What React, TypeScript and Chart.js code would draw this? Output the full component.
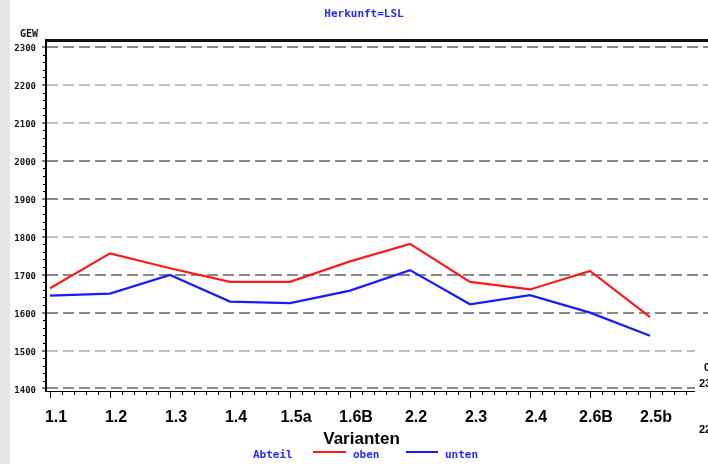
import React, { useEffect, useRef } from "react";
import { Chart, registerables } from "chart.js";

Chart.register(...registerables);

const categories = ["1.1", "1.2", "1.3", "1.4", "1.5a", "1.6B", "2.2", "2.3", "2.4", "2.6B", "2.5b"];
const oben = [1664, 1756, 1717, 1681, 1681, 1735, 1781, 1681, 1661, 1710, 1588];
const unten = [1645, 1650, 1699, 1629, 1625, 1658, 1712, 1622, 1646, 1600, 1539];
const yTicks = [1400, 1500, 1600, 1700, 1800, 1900, 2000, 2100, 2200, 2300];
const darkGrid = [1400, 1600, 1700, 1900, 2000, 2300];
const titleText = "Herkunft=LSL";
const yTitle = "GEW";
const xTitle = "Varianten";
const legendTitle = "Abteil";
const seriesNames = ["oben", "unten"];

const RED = "#ff1a1a";
const BLUE = "#1a1aff";
const TEXT_BLUE = "#2a2aff";
const MONO = "'DejaVu Sans Mono', monospace";
const SANS = "'Liberation Sans', Arial, sans-serif";

const decor = {
  id: "decor",
  beforeDraw(chart: any) {
    const ctx = chart.ctx;
    ctx.save();
    ctx.fillStyle = "#ffffff";
    ctx.fillRect(0, 0, chart.width, chart.height);
    ctx.fillStyle = "#e6e6e6";
    ctx.fillRect(0, 0, 10, chart.height);
    ctx.restore();
  },
  afterDraw(chart: any) {
    const { ctx, chartArea: ca, scales } = chart;
    const xs = scales.x;
    const ys = scales.y;
    ctx.save();
    // minor ticks
    ctx.strokeStyle = "#000";
    ctx.lineWidth = 1;
    ctx.beginPath();
    for (let k = Math.ceil(xs.min * 5); k <= Math.floor(xs.max * 5); k++) {
      if (k % 5 === 0) continue;
      const px = Math.round(xs.getPixelForValue(k / 5)) + 0.5;
      ctx.moveTo(px, ca.bottom);
      ctx.lineTo(px, ca.bottom + 4);
    }
    for (let v = Math.ceil(ys.min / 20) * 20; v <= ys.max; v += 20) {
      if (v % 100 === 0) continue;
      const py = Math.round(ys.getPixelForValue(v)) + 0.5;
      ctx.moveTo(ca.left - 3, py);
      ctx.lineTo(ca.left, py);
    }
    ctx.stroke();

    // top frame line
    ctx.fillStyle = "#111";
    ctx.fillRect(ca.left - 1, ca.top - 1, ca.right - ca.left + 1, 3);

    // right-side cut (neighbouring panel)
    ctx.fillStyle = "#ffffff";
    ctx.fillRect(695, 340, 13, 124);
    ctx.fillStyle = "#000";
    ctx.font = `bold 11px ${SANS}`;
    ctx.textAlign = "left";
    ctx.textBaseline = "middle";
    ctx.fillText("0", 704, 368);
    ctx.fillText("23", 699, 384);
    ctx.fillText("22", 699, 430);

    // title
    ctx.fillStyle = TEXT_BLUE;
    ctx.font = `bold 11px ${MONO}`;
    ctx.textAlign = "center";
    ctx.textBaseline = "middle";
    ctx.fillText(titleText, 364, 14);

    // y title
    ctx.fillStyle = "#111";
    ctx.font = `bold 10px ${MONO}`;
    ctx.textAlign = "right";
    ctx.fillText(yTitle, 38, 34.5);

    // x title
    ctx.fillStyle = "#000";
    ctx.font = `bold 17px ${SANS}`;
    ctx.textAlign = "center";
    ctx.textBaseline = "alphabetic";
    ctx.fillText(xTitle, 361.5, 444);

    // legend
    ctx.font = `bold 11px ${MONO}`;
    ctx.textAlign = "left";
    ctx.textBaseline = "middle";
    ctx.fillStyle = TEXT_BLUE;
    ctx.fillText(legendTitle, 253, 455);
    ctx.lineWidth = 2;
    ctx.strokeStyle = RED;
    ctx.beginPath();
    ctx.moveTo(313, 452);
    ctx.lineTo(346, 452);
    ctx.stroke();
    ctx.fillText(seriesNames[0], 353, 455);
    ctx.strokeStyle = BLUE;
    ctx.beginPath();
    ctx.moveTo(406, 452);
    ctx.lineTo(438, 452);
    ctx.stroke();
    ctx.fillText(seriesNames[1], 445, 455);
    ctx.restore();
  },
};

export default function App() {
  const ref = useRef<HTMLCanvasElement | null>(null);

  useEffect(() => {
    if (!ref.current) return;
    const chart = new Chart(ref.current, {
      type: "line",
      data: {
        datasets: [
          {
            label: seriesNames[0],
            data: oben.map((v, i) => ({ x: i, y: v })),
            borderColor: RED,
            borderWidth: 2.2,
            pointRadius: 0,
            tension: 0,
            fill: false,
          },
          {
            label: seriesNames[1],
            data: unten.map((v, i) => ({ x: i, y: v })),
            borderColor: BLUE,
            borderWidth: 2.2,
            pointRadius: 0,
            tension: 0,
            fill: false,
          },
        ],
      },
      options: {
        animation: false,
        responsive: false,
        maintainAspectRatio: false,
        layout: { padding: { top: 40, left: 0, right: 0, bottom: 0 } },
        plugins: {
          legend: { display: false },
          title: { display: false },
          tooltip: { enabled: false },
        },
        scales: {
          x: {
            type: "linear",
            position: "bottom",
            min: -4 / 60,
            max: 658 / 60,
            afterFit: (s: any) => {
              s.height = 73;
            },
            afterBuildTicks: (s: any) => {
              s.ticks = categories.map((_, i) => ({ value: i }));
            },
            grid: {
              drawOnChartArea: false,
              drawTicks: true,
              tickLength: 7,
              tickColor: "#000",
              tickWidth: 1,
            },
            border: { display: true, color: "#000", width: 1 },
            ticks: {
              callback: (v: any) => categories[v as number],
              font: { family: SANS, size: 16, weight: "bold" },
              color: "#000",
              padding: 10,
              labelOffset: 6,
              maxRotation: 0,
              autoSkip: false,
            },
          },
          y: {
            type: "linear",
            min: 1393.4,
            max: 2318.4,
            afterFit: (s: any) => {
              s.width = 46;
            },
            afterBuildTicks: (s: any) => {
              s.ticks = yTicks.map((v) => ({ value: v }));
            },
            grid: {
              color: (c: any) => (darkGrid.includes(c.tick?.value) ? "#8a8a8a" : "#bdbdbd"),
              lineWidth: 2,
              drawTicks: true,
              tickLength: 4,
              tickColor: "#000",
              tickWidth: 1,
              tickBorderDash: [],
            },
            border: { display: true, color: "#000", width: 2, dash: [11, 5] },
            ticks: {
              font: { family: MONO, size: 9, weight: "bold" },
              color: "#111",
              padding: 6,
              labelOffset: 2,
              callback: (v: any) => String(v),
            },
          },
        },
      } as any,
      plugins: [decor],
    });
    return () => chart.destroy();
  }, []);

  return (
    <div style={{ position: "fixed", left: 0, top: 0, width: 708, height: 464, background: "#fff" }}>
      <canvas ref={ref} width={708} height={464} style={{ display: "block", width: 708, height: 464 }} />
    </div>
  );
}
